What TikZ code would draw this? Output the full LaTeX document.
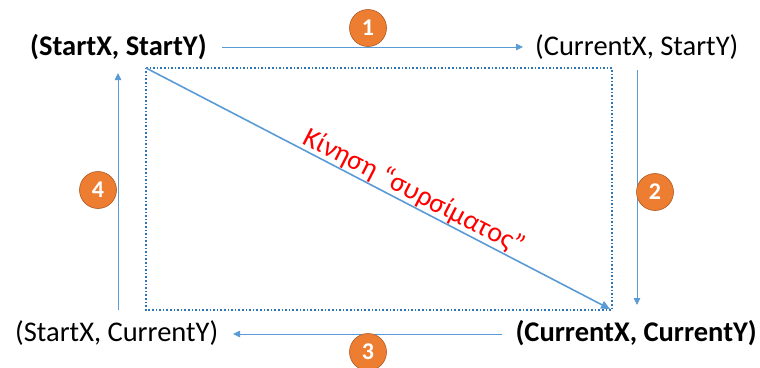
\documentclass[tikz,border=0pt]{standalone}
\usepackage{fontspec}
\setmainfont{Carlito}
\usetikzlibrary{arrows.meta,calc}
\definecolor{lblue}{HTML}{5B9BD5}
\definecolor{dblue}{HTML}{2E75B6}
\definecolor{orng}{HTML}{ED7D31}
\definecolor{orngd}{HTML}{AE5A21}
\tikzset{
  lbl/.style={inner sep=0pt, font=\fontsize{28.5}{32}\selectfont},
  blbl/.style={lbl, font=\fontsize{28.5}{32}\selectfont\bfseries},
  thinarrow/.style={draw=lblue, line width=0.8pt, -{Triangle[width=6.5pt,length=7pt]}},
  badge/.style={circle, fill=orng, draw=orngd, line width=0.6pt, minimum size=37pt, inner sep=0pt, text=white, font=\fontsize{24}{26}\selectfont\bfseries},
}
\begin{document}
\begin{tikzpicture}[x=1pt,y=-1pt]
\useasboundingbox (0,0) rectangle (760,367);
% labels
\node[blbl, anchor=west] (sxsy) at (30,47) {(StartX, StartY)};
\node[lbl, anchor=west] (cxsy) at (535,47) {(CurrentX, StartY)};
\node[lbl, anchor=west] (sxcy) at (15,333) {(StartX, CurrentY)};
\node[blbl, anchor=east] (cxcy) at (757,333) {(CurrentX, CurrentY)};
% rectangle
\coordinate (A) at (146,68);
\coordinate (B) at (612,68);
\coordinate (C) at (612,310);
\coordinate (D) at (146,310);
\coordinate (Ce) at (610,309);
\draw[dblue, line width=1.6pt, dotted] (A) -- (B) -- (C) -- (D) -- cycle;
\draw[lblue, line width=1.6pt, -{Triangle[width=8pt,length=9pt]}] (A) -- (Ce);
% arrow endpoints
\coordinate (a1s) at (222,47); \coordinate (a1e) at (523,47);
\coordinate (a2s) at (637,70); \coordinate (a2e) at (637,305);
\coordinate (a3s) at (502,334); \coordinate (a3e) at (233,334);
\coordinate (a4s) at (118,310); \coordinate (a4e) at (118,73);
\draw[thinarrow] (a1s) -- (a1e);
\draw[thinarrow] (a2s) -- (a2e);
\draw[thinarrow] (a3s) -- (a3e);
\draw[thinarrow] (a4s) -- (a4e);
% badges
\node[badge] (n1) at (368,28) {1};
\node[badge] (n2) at (655,192) {2};
\node[badge] (n3) at (368,352) {3};
\node[badge] (n4) at (98,190) {4};
% greek label
\node[text=red, rotate=-27.3, font=\fontsize{28}{32}\selectfont, inner sep=0pt] (drag) at (414,192) {Κίνηση “συρσίματος”};
\end{tikzpicture}
\end{document}
